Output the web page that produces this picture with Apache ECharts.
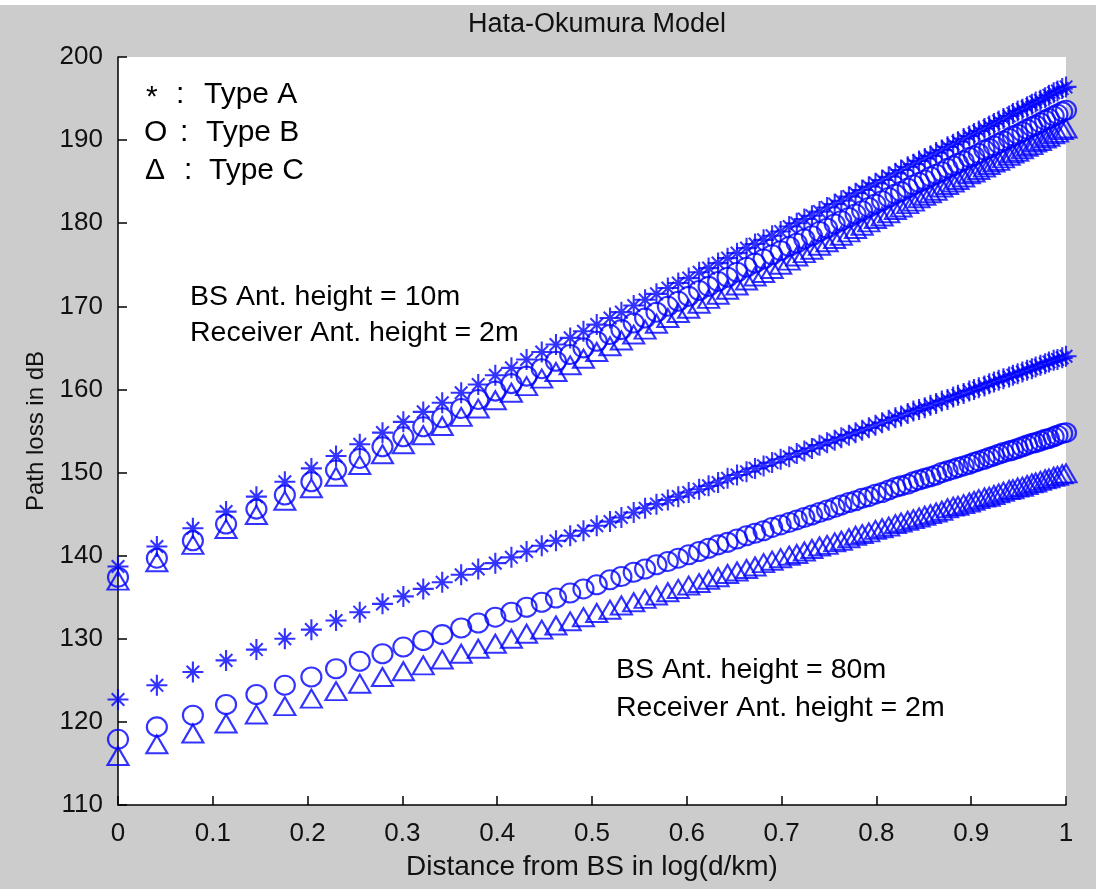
<!DOCTYPE html>
<html>
<head>
<meta charset="utf-8">
<title>Hata-Okumura Model</title>
<script src="https://cdn.jsdelivr.net/npm/echarts@6/dist/echarts.min.js"></script>
<style>
  html, body { margin: 0; padding: 0; background: #cccccc; }
  #chart { width: 1096px; height: 889px; }
</style>
</head>
<body>
<div id="chart"></div>
<script>
// x axis: log10(d/km), d = 1.0 ... 10.0 km
const logDist = [
  0, 0.041, 0.079, 0.114, 0.146, 0.176, 0.204, 0.230, 0.255, 0.279,
  0.301, 0.322, 0.342, 0.362, 0.380, 0.398, 0.415, 0.431, 0.447, 0.462,
  0.477, 0.491, 0.505, 0.519, 0.531, 0.544, 0.556, 0.568, 0.580, 0.591,
  0.602, 0.613, 0.623, 0.633, 0.643, 0.653, 0.663, 0.672, 0.681, 0.690,
  0.699, 0.708, 0.716, 0.724, 0.732, 0.740, 0.748, 0.756, 0.763, 0.771,
  0.778, 0.785, 0.792, 0.799, 0.806, 0.813, 0.820, 0.826, 0.833, 0.839,
  0.845, 0.851, 0.857, 0.863, 0.869, 0.875, 0.881, 0.886, 0.892, 0.898,
  0.903, 0.908, 0.914, 0.919, 0.924, 0.929, 0.934, 0.940, 0.944, 0.949,
  0.954, 0.959, 0.964, 0.968, 0.973, 0.978, 0.982, 0.987, 0.991, 0.996,
  1
];

// BS antenna 10m, receiver 2m
const upperA = [
  138.7, 141.1, 143.3, 145.3, 147.1, 148.9, 150.5, 152.0, 153.4, 154.8,
  156.1, 157.3, 158.4, 159.6, 160.6, 161.7, 162.6, 163.6, 164.5, 165.4,
  166.2, 167.0, 167.8, 168.6, 169.3, 170.1, 170.8, 171.5, 172.2, 172.8,
  173.4, 174.1, 174.6, 175.2, 175.8, 176.4, 177.0, 177.5, 178.0, 178.5,
  179.0, 179.6, 180.0, 180.5, 180.9, 181.4, 181.9, 182.3, 182.7, 183.2,
  183.6, 184.0, 184.4, 184.8, 185.2, 185.6, 186.0, 186.4, 186.8, 187.1,
  187.5, 187.8, 188.1, 188.5, 188.8, 189.2, 189.5, 189.8, 190.2, 190.5,
  190.8, 191.1, 191.4, 191.7, 192.0, 192.3, 192.6, 192.9, 193.2, 193.5,
  193.7, 194.0, 194.3, 194.6, 194.8, 195.1, 195.4, 195.7, 195.9, 196.2,
  196.4
];
const upperB = [
  137.4, 139.7, 141.8, 143.8, 145.6, 147.3, 148.9, 150.3, 151.7, 153.1,
  154.3, 155.5, 156.6, 157.7, 158.8, 159.8, 160.7, 161.6, 162.5, 163.4,
  164.2, 165.0, 165.8, 166.6, 167.2, 168.0, 168.6, 169.3, 170.0, 170.6,
  171.2, 171.9, 172.4, 173.0, 173.5, 174.1, 174.7, 175.2, 175.7, 176.2,
  176.7, 177.2, 177.6, 178.1, 178.5, 179.0, 179.4, 179.9, 180.3, 180.7,
  181.1, 181.5, 181.9, 182.3, 182.7, 183.1, 183.5, 183.8, 184.2, 184.6,
  184.9, 185.2, 185.6, 185.9, 186.2, 186.6, 186.9, 187.2, 187.5, 187.9,
  188.1, 188.4, 188.8, 189.0, 189.3, 189.6, 189.9, 190.2, 190.5, 190.7,
  191.0, 191.3, 191.6, 191.8, 192.1, 192.4, 192.6, 192.9, 193.1, 193.4,
  193.6
];
const upperC = [
  137.0, 139.2, 141.3, 143.2, 144.9, 146.6, 148.1, 149.5, 150.9, 152.2,
  153.4, 154.5, 155.6, 156.7, 157.7, 158.7, 159.6, 160.4, 161.3, 162.1,
  162.9, 163.7, 164.5, 165.2, 165.9, 166.6, 167.2, 167.9, 168.6, 169.2,
  169.7, 170.3, 170.9, 171.4, 172.0, 172.5, 173.1, 173.6, 174.0, 174.5,
  175.0, 175.5, 176.0, 176.4, 176.8, 177.3, 177.7, 178.1, 178.5, 178.9,
  179.3, 179.7, 180.1, 180.5, 180.8, 181.2, 181.6, 181.9, 182.3, 182.6,
  183.0, 183.3, 183.6, 183.9, 184.3, 184.6, 184.9, 185.2, 185.5, 185.9,
  186.1, 186.4, 186.7, 187.0, 187.3, 187.5, 187.8, 188.1, 188.4, 188.6,
  188.9, 189.2, 189.4, 189.7, 189.9, 190.2, 190.4, 190.7, 190.9, 191.2,
  191.4
];

// BS antenna 80m, receiver 2m
const lowerA = [
  122.7, 124.4, 126.0, 127.4, 128.7, 130.0, 131.1, 132.2, 133.2, 134.2,
  135.1, 136.0, 136.8, 137.7, 138.4, 139.1, 139.8, 140.5, 141.2, 141.8,
  142.4, 143.0, 143.6, 144.1, 144.6, 145.2, 145.7, 146.2, 146.7, 147.1,
  147.6, 148.0, 148.4, 148.8, 149.3, 149.7, 150.1, 150.5, 150.8, 151.2,
  151.6, 151.9, 152.3, 152.6, 152.9, 153.3, 153.6, 153.9, 154.2, 154.5,
  154.8, 155.1, 155.4, 155.7, 156.0, 156.3, 156.6, 156.8, 157.1, 157.4,
  157.6, 157.8, 158.1, 158.3, 158.6, 158.8, 159.1, 159.3, 159.5, 159.8,
  160.0, 160.2, 160.4, 160.7, 160.9, 161.1, 161.3, 161.5, 161.7, 161.9,
  162.1, 162.3, 162.5, 162.7, 162.9, 163.1, 163.3, 163.5, 163.6, 163.8,
  164.0
];
const lowerB = [
  117.9, 119.4, 120.8, 122.1, 123.3, 124.4, 125.4, 126.4, 127.3, 128.2,
  129.0, 129.8, 130.5, 131.3, 131.9, 132.6, 133.2, 133.8, 134.4, 134.9,
  135.5, 136.0, 136.5, 137.1, 137.5, 138.0, 138.4, 138.9, 139.3, 139.7,
  140.1, 140.5, 140.9, 141.3, 141.6, 142.0, 142.4, 142.7, 143.0, 143.4,
  143.7, 144.0, 144.3, 144.6, 144.9, 145.2, 145.5, 145.8, 146.1, 146.4,
  146.6, 146.9, 147.1, 147.4, 147.6, 147.9, 148.2, 148.4, 148.6, 148.9,
  149.1, 149.3, 149.5, 149.7, 150.0, 150.2, 150.4, 150.6, 150.8, 151.0,
  151.2, 151.4, 151.6, 151.8, 152.0, 152.2, 152.4, 152.6, 152.7, 152.9,
  153.1, 153.3, 153.5, 153.6, 153.8, 154.0, 154.1, 154.3, 154.5, 154.7,
  154.8
];
const lowerC = [
  115.9, 117.3, 118.6, 119.8, 120.9, 121.9, 122.8, 123.7, 124.6, 125.4,
  126.1, 126.8, 127.5, 128.2, 128.8, 129.4, 130.0, 130.6, 131.1, 131.6,
  132.1, 132.6, 133.1, 133.5, 134.0, 134.4, 134.8, 135.2, 135.6, 136.0,
  136.4, 136.7, 137.1, 137.4, 137.8, 138.1, 138.4, 138.7, 139.1, 139.4,
  139.7, 140.0, 140.2, 140.5, 140.8, 141.1, 141.3, 141.6, 141.8, 142.1,
  142.4, 142.6, 142.8, 143.1, 143.3, 143.5, 143.8, 144.0, 144.2, 144.4,
  144.6, 144.8, 145.0, 145.2, 145.4, 145.7, 145.9, 146.0, 146.2, 146.4,
  146.6, 146.8, 147.0, 147.1, 147.3, 147.5, 147.7, 147.9, 148.0, 148.2,
  148.3, 148.5, 148.7, 148.8, 149.0, 149.2, 149.3, 149.5, 149.6, 149.8,
  149.9
];

// MATLAB-like hollow markers
const STAR = "path://M0,-10L0,10M-10,0L10,0M-6,-6L6,6M-6,6L6,-6";
const CIRCLE = "path://M10,0A10,10,0,1,1,-10,0A10,10,0,1,1,10,0Z";
const TRIANGLE = "path://M0,-10L10,10L-10,10Z";

const FONT = "'Liberation Sans', Arial, Helvetica, sans-serif";
const BLUE = "#0000ff";

const pairs = (ys) => logDist.map((x, i) => [x, ys[i]]);

const markerSeries = (name, ys, symbol, size) => ({
  name: name,
  type: "scatter",
  data: pairs(ys),
  symbol: symbol,
  symbolSize: size,
  clip: false,
  silent: true,
  itemStyle: {
    color: "transparent",
    borderColor: BLUE,
    borderWidth: 2.1,
  },
  emphasis: { disabled: true },
});

const label = (text, x, y, size) => ({
  type: "text",
  x: x,
  y: y,
  silent: true,
  style: {
    text: text,
    fill: "#000",
    font: size + "px " + FONT,
    align: "left",
    verticalAlign: "middle",
  },
});

const chart = echarts.init(document.getElementById("chart"));

const option = {
  backgroundColor: "#cccccc",
  animation: false,
  title: {
    text: "Hata-Okumura Model",
    left: 592,
    top: 6,
    textAlign: "center",
    textStyle: {
      fontFamily: FONT,
      fontSize: 27,
      fontWeight: "normal",
      color: "#111",
    },
  },
  grid: {
    left: 118,
    right: 30,
    top: 57,
    bottom: 84,
    show: true,
    backgroundColor: "#ffffff",
    borderWidth: 0,
  },
  xAxis: {
    type: "value",
    min: 0,
    max: 1,
    interval: 0.1,
    name: "Distance from BS in log(d/km)",
    nameLocation: "middle",
    nameGap: 48,
    nameTextStyle: { fontFamily: FONT, fontSize: 28, color: "#111" },
    axisLine: { onZero: false, lineStyle: { color: "#000", width: 1.5 } },
    axisTick: { inside: true, length: 9, lineStyle: { color: "#000", width: 1.5 } },
    axisLabel: { margin: 16, fontFamily: FONT, fontSize: 26, color: "#111" },
    splitLine: { show: false },
  },
  yAxis: {
    type: "value",
    min: 110,
    max: 200,
    interval: 10,
    name: "Path loss in dB",
    nameLocation: "middle",
    nameGap: 58,
    nameTextStyle: { fontFamily: FONT, fontSize: 24, color: "#111" },
    axisLine: { onZero: false, lineStyle: { color: "#000", width: 1.5 } },
    axisTick: { inside: true, length: 9, lineStyle: { color: "#000", width: 1.5 } },
    axisLabel: { margin: 15, fontFamily: FONT, fontSize: 26, color: "#111" },
    splitLine: { show: false },
  },
  series: [
    markerSeries("A (10m)", upperA, STAR, [21, 21]),
    markerSeries("B (10m)", upperB, CIRCLE, [20, 19]),
    markerSeries("C (10m)", upperC, TRIANGLE, [21, 18]),
    markerSeries("A (80m)", lowerA, STAR, [21, 21]),
    markerSeries("B (80m)", lowerB, CIRCLE, [20, 19]),
    markerSeries("C (80m)", lowerC, TRIANGLE, [21, 18]),
  ],
  graphic: [
    // thin white strip along the top edge of the figure
    { type: "rect", left: 0, top: 0, shape: { width: 1096, height: 5 }, style: { fill: "#ffffff" }, silent: true },
    // marker key
    label("*", 146, 98, 30),
    label(":", 176, 95, 30),
    label("Type A", 204, 95, 30),
    label("O", 144, 133, 30),
    label(":", 180, 133, 30),
    label("Type B", 206, 133, 30),
    label("\u0394", 145, 171, 30),
    label(":", 184, 171, 30),
    label("Type C", 209, 171, 30),
    // antenna heights
    label("BS Ant. height = 10m", 190, 297, 28.5),
    label("Receiver Ant. height = 2m", 190, 333, 28.5),
    label("BS Ant. height = 80m", 616, 670, 28.5),
    label("Receiver Ant. height = 2m", 616, 708, 28.5),
  ],
};

chart.setOption(option);

window.addEventListener("resize", () => chart.resize());
</script>
</body>
</html>
